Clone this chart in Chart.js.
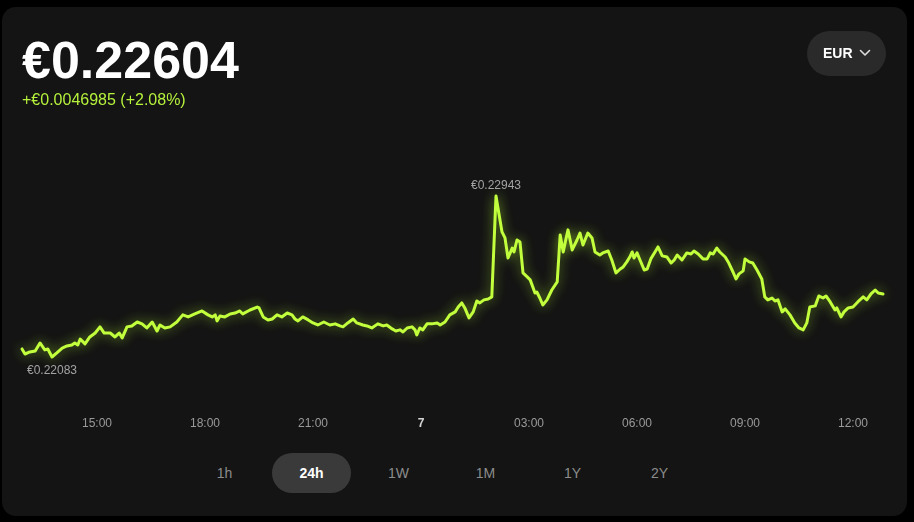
<!DOCTYPE html>
<html><head><meta charset="utf-8">
<script src="https://cdn.jsdelivr.net/npm/chart.js@4.4.1/dist/chart.umd.min.js"></script>
<style>
html,body{margin:0;padding:0;background:#000;width:914px;height:522px;overflow:hidden;font-family:"Liberation Sans",Arial,sans-serif;}
#card{position:absolute;left:2px;top:7px;width:905px;height:509px;background:#141414;border-radius:14px;}
#price{position:absolute;left:22px;top:34px;font-size:52px;line-height:52px;font-weight:bold;color:#fff;white-space:nowrap;}
#change{position:absolute;left:22px;top:92px;font-size:16px;line-height:16px;color:#b6f23c;white-space:nowrap;}
#cur{position:absolute;left:807px;top:31px;width:79px;height:45px;border-radius:23px;background:#2a2a2a;color:#fff;font-weight:bold;font-size:14px;line-height:45px;}
#cur span{position:absolute;left:16px;top:0;}
#cur svg{position:absolute;left:52px;top:18px;}
#chartwrap{position:absolute;left:0;top:0;width:914px;height:440px;}
.btn{position:absolute;top:453px;height:40px;line-height:40px;width:79px;text-align:center;font-size:14px;color:#8c8c8c;border-radius:20px;}
.btn.sel{background:#3a3a3a;color:#fff;font-weight:bold;}
</style>
</head><body>
<div id="card"></div>
<div id="chartwrap"><canvas id="c" width="914" height="440"></canvas></div>
<div id="price">€0.22604</div>
<div id="change">+€0.0046985 (+2.08%)</div>
<div id="cur"><span>EUR</span><svg width="12" height="8" viewBox="0 0 12 8"><polyline points="1.5,1.5 6,6 10.5,1.5" fill="none" stroke="#ddd" stroke-width="1.6" stroke-linecap="round" stroke-linejoin="round"/></svg></div>
<div id="btns"></div>
<script>
// minutes since 00:00 of the 6th
const minutes = [775,780,788,797,805,813,818,825,833,842,850,858,863,868,872,880,888,897,905,912,922,930,937,942,950,958,967,975,983,992,1000,1005,1013,1022,1033,1043,1052,1063,1075,1085,1092,1097,1100,1105,1113,1122,1130,1138,1143,1155,1167,1170,1177,1185,1192,1200,1208,1217,1225,1230,1235,1243,1252,1260,1268,1278,1288,1297,1305,1310,1318,1327,1333,1343,1350,1358,1368,1377,1383,1392,1398,1405,1410,1417,1425,1430,1433,1438,1443,1450,1458,1467,1472,1480,1488,1497,1502,1508,1513,1520,1527,1533,1538,1545,1552,1558,1565,1568,1575,1580,1585,1592,1595,1600,1605,1610,1617,1622,1630,1633,1638,1643,1650,1658,1667,1672,1677,1682,1685,1692,1700,1705,1710,1718,1725,1730,1738,1743,1752,1758,1765,1772,1777,1783,1788,1792,1795,1800,1805,1812,1817,1823,1830,1835,1842,1850,1857,1862,1867,1875,1883,1890,1895,1902,1910,1917,1922,1927,1933,1938,1947,1953,1960,1965,1970,1977,1980,1987,1993,2000,2008,2013,2018,2025,2030,2035,2042,2047,2055,2063,2070,2077,2083,2088,2097,2103,2110,2115,2122,2130,2133,2140,2145,2152,2160,2168,2177,2183,2190,2197,2202,2210];
const prices = [0.22126,0.22099,0.22110,0.22115,0.22158,0.22121,0.22126,0.22083,0.22105,0.22131,0.22142,0.22147,0.22158,0.22147,0.22179,0.22153,0.22190,0.22211,0.22244,0.22211,0.22211,0.22190,0.22211,0.22185,0.22244,0.22249,0.22270,0.22260,0.22238,0.22270,0.22222,0.22254,0.22238,0.22244,0.22270,0.22308,0.22297,0.22313,0.22329,0.22308,0.22297,0.22308,0.22276,0.22302,0.22297,0.22313,0.22318,0.22329,0.22313,0.22334,0.22350,0.22345,0.22297,0.22281,0.22286,0.22308,0.22297,0.22318,0.22308,0.22286,0.22276,0.22297,0.22281,0.22265,0.22254,0.22270,0.22254,0.22260,0.22249,0.22244,0.22265,0.22286,0.22265,0.22254,0.22249,0.22238,0.22260,0.22249,0.22254,0.22233,0.22222,0.22228,0.22217,0.22238,0.22244,0.22228,0.22201,0.22238,0.22228,0.22260,0.22260,0.22265,0.22254,0.22270,0.22308,0.22324,0.22350,0.22372,0.22345,0.22292,0.22324,0.22382,0.22372,0.22388,0.22393,0.22404,0.22943,0.22884,0.22751,0.22719,0.22612,0.22665,0.22644,0.22708,0.22697,0.22532,0.22511,0.22495,0.22425,0.22430,0.22398,0.22361,0.22388,0.22441,0.22484,0.22735,0.22644,0.22719,0.22762,0.22655,0.22708,0.22745,0.22681,0.22745,0.22719,0.22644,0.22628,0.22639,0.22649,0.22601,0.22532,0.22553,0.22564,0.22591,0.22617,0.22644,0.22612,0.22639,0.22601,0.22548,0.22553,0.22607,0.22644,0.22671,0.22623,0.22617,0.22585,0.22601,0.22628,0.22601,0.22639,0.22633,0.22649,0.22633,0.22607,0.22607,0.22639,0.22633,0.22665,0.22644,0.22617,0.22585,0.22537,0.22500,0.22527,0.22543,0.22607,0.22591,0.22585,0.22548,0.22500,0.22404,0.22388,0.22398,0.22382,0.22388,0.22324,0.22340,0.22308,0.22265,0.22238,0.22228,0.22265,0.22350,0.22356,0.22409,0.22398,0.22409,0.22377,0.22334,0.22345,0.22297,0.22324,0.22345,0.22350,0.22377,0.22404,0.22388,0.22420,0.22441,0.22425,0.22420];
const tickMinutes = [900,1080,1260,1440,1620,1800,1980,2160];
const tickLabels = ["15:00","18:00","21:00","7","03:00","06:00","09:00","12:00"];
const rangeButtons = ["1h","24h","1W","1M","1Y","2Y"];
const selectedRange = "24h";

const btns = document.getElementById('btns');
rangeButtons.forEach((t,i)=>{
  const d=document.createElement('div');
  d.className='btn'+(t===selectedRange?' sel':'');
  d.style.left=(185+87*i)+'px';
  d.textContent=t;
  btns.appendChild(d);
});

const lime='#c2ff3c';
const glow={id:'glow',
  beforeDatasetDraw(chart){const c=chart.ctx;c.save();c.shadowColor='rgba(185,255,45,0.6)';c.shadowBlur=12;},
  afterDatasetDraw(chart){chart.ctx.restore();}
};
const extremes={id:'extremes',
  afterDatasetsDraw(chart){
    const c=chart.ctx, xs=chart.scales.x, ys=chart.scales.y;
    let iMax=0,iMin=0;
    prices.forEach((p,i)=>{if(p>prices[iMax])iMax=i;if(p<prices[iMin])iMin=i;});
    c.save();
    c.font='12px "Liberation Sans", Arial, sans-serif';
    c.fillStyle='#a3a3a3';
    c.textAlign='center';
    c.textBaseline='alphabetic';
    c.fillText('€'+prices[iMax].toFixed(5), xs.getPixelForValue(minutes[iMax]), ys.getPixelForValue(prices[iMax])-7);
    c.textBaseline='top';
    c.fillText('€'+prices[iMin].toFixed(5), xs.getPixelForValue(minutes[iMin]), ys.getPixelForValue(prices[iMin])+8);
    c.restore();
  }
};

new Chart(document.getElementById('c'),{
  type:'line',
  data:{datasets:[{
    data:minutes.map((m,i)=>({x:m,y:prices[i]})),
    borderColor:lime,borderWidth:3,pointRadius:0,tension:0,
    borderJoinStyle:'round',borderCapStyle:'round',fill:false,clip:false
  }]},
  options:{
    responsive:false,animation:false,devicePixelRatio:1,
    layout:{padding:{top:150,left:22,right:31,bottom:10}},
    plugins:{legend:{display:false},tooltip:{enabled:false}},
    scales:{
      x:{type:'linear',min:775,max:2210,
        grid:{display:false,drawTicks:false},border:{display:false},
        afterBuildTicks(s){s.ticks=tickMinutes.map(v=>({value:v}));},
        afterFit(s){s.height=30;},
        ticks:{autoSkip:false,maxRotation:0,padding:16,
          callback:(v)=>tickLabels[tickMinutes.indexOf(v)],
          color:(ctx)=>ctx.tick&&ctx.tick.value===1440?'#d6d6d6':'#9a9a9a',
          font:(ctx)=>({family:'"Liberation Sans", Arial, sans-serif',size:12,weight:(ctx.tick&&ctx.tick.value===1440)?'bold':'normal'})
        }
      },
      y:{display:false,min:0.218533,max:0.231887}
    }
  },
  plugins:[glow,extremes]
});
</script>
</body></html>
